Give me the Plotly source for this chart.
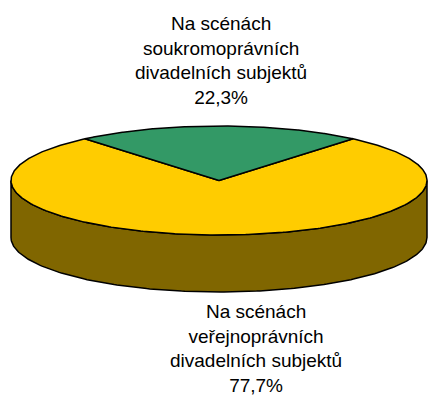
import numpy as np
import plotly.graph_objects as go

# Share of performances by type of theatre operator (percent)
categories = [
    ["Na scénách", "veřejnoprávních", "divadelních subjektů"],
    ["Na scénách", "soukromoprávních", "divadelních subjektů"],
]
shares = [77.7, 22.3]
top_colors = ["#FFCC00", "#339966"]
side_colors = ["#806600", "#1A4D33"]

# Projected disc geometry (pixel space of a 430x396 canvas)
CX, CY = 219.0, 180.5
RX, RY = 208.0, 54.5
DEPTH = 57.0

# Slice angles: the second slice is centred at the back (90 degrees)
total = sum(shares)
spans = [s / total * 360.0 for s in shares]
start_small = 90.0 - spans[1] / 2.0
bounds = [
    (start_small + spans[1], start_small + spans[1] + spans[0]),
    (start_small, start_small + spans[1]),
]


def arc(t0, t1, dy=0.0, n=200):
    t = np.radians(np.linspace(t0, t1, n))
    return CX + RX * np.cos(t), CY - RY * np.sin(t) + dy


fig = go.Figure()

# Side wall: only the front half (180..360 deg) is visible
for (a0, a1), col in zip(bounds, side_colors):
    segs = []
    for k in (0, 360):
        lo, hi = max(a0, 180 + k), min(a1, 360 + k)
        if hi > lo:
            segs.append((lo, hi))
    for lo, hi in segs:
        xt, yt = arc(lo, hi)
        xb, yb = arc(hi, lo, DEPTH)
        xs = np.concatenate([xt, xb, xt[:1]])
        ys = np.concatenate([yt, yb, yt[:1]])
        fig.add_trace(go.Scatter(x=xs, y=ys, mode="lines", fill="toself",
                                 fillcolor=col,
                                 line=dict(color="black", width=1.5),
                                 hoverinfo="skip", showlegend=False))

# Top face slices
for (a0, a1), col in zip(bounds, top_colors):
    xa, ya = arc(a0, a1, n=400)
    xs = np.concatenate([[CX], xa, [CX]])
    ys = np.concatenate([[CY], ya, [CY]])
    fig.add_trace(go.Scatter(x=xs, y=ys, mode="lines", fill="toself",
                             fillcolor=col,
                             line=dict(color="black", width=1.5),
                             hoverinfo="skip", showlegend=False))

# Data labels
label_pos = [(256, 348), (221, 60)]
for lines, val, (lx, ly) in zip(categories, shares, label_pos):
    text = "<br>".join(lines + [f"{val:.1f}".replace(".", ",") + "%"])
    fig.add_annotation(x=lx, y=ly, text=text, showarrow=False,
                       xanchor="center", yanchor="middle", align="center",
                       font=dict(family="Liberation Sans, Arial", size=19,
                                 color="black"))

fig.update_layout(
    width=430, height=396,
    margin=dict(l=0, r=0, t=0, b=0),
    paper_bgcolor="white", plot_bgcolor="white",
    xaxis=dict(range=[0, 430], visible=False, fixedrange=True),
    yaxis=dict(range=[396, 0], visible=False, fixedrange=True),
    showlegend=False,
)

fig.write_html("out.html")
